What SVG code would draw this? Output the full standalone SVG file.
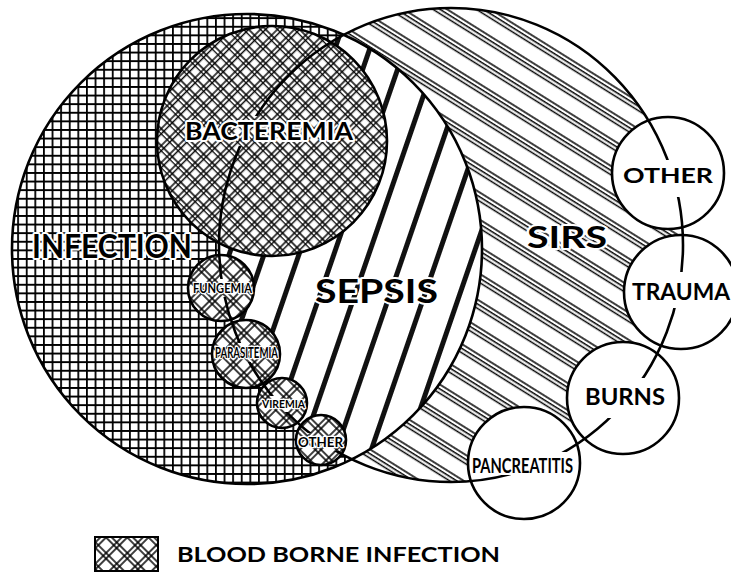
<svg xmlns="http://www.w3.org/2000/svg" width="731" height="572" viewBox="0 0 731 572">
<style>
.o{fill:none;stroke:#000;stroke-width:2.6}
.w{fill:#fff}
.t{font-family:Lato,"Open Sans","Liberation Sans",sans-serif;font-weight:bold;fill:#000;stroke:#fff;stroke-width:4;stroke-linejoin:round;paint-order:stroke}
.s{stroke-width:2.6}
</style>
<defs>
<pattern id="grid" patternUnits="userSpaceOnUse" width="8.6" height="8.6">
<path d="M0 0.9H8.6M0.9 0V8.6" stroke="#000" stroke-width="1.8"/>
</pattern>
<pattern id="stripes" patternUnits="userSpaceOnUse" width="33" height="40" patternTransform="rotate(19)">
<rect x="0" y="0" width="5" height="40" fill="#111"/>
</pattern>
<pattern id="sirsPat" patternUnits="userSpaceOnUse" width="40" height="23" patternTransform="rotate(32)">
<path d="M0 1H40M0 4.8H40M0 8.6H40" stroke="#000" stroke-width="1.5"/>
</pattern>
<pattern id="bact" patternUnits="userSpaceOnUse" width="12" height="12" patternTransform="rotate(45)">
<path d="M0 1H12M0 4.6H12M1 0V12M4.6 0V12" stroke="#000" stroke-width="1.45"/>
</pattern>
<pattern id="blood" patternUnits="userSpaceOnUse" width="15" height="15" patternTransform="rotate(45)">
<path d="M0 1H15M0 5H15M1 0V15M5 0V15" stroke="#000" stroke-width="1.5"/>
</pattern>
<clipPath id="sirsClip"><ellipse cx="451" cy="245" rx="232" ry="237"/></clipPath>
<mask id="lineMask" maskUnits="userSpaceOnUse" x="0" y="0" width="731" height="572">
<rect width="731" height="572" fill="#fff"/>
<rect x="183" y="116" width="174" height="30" fill="#000"/>
<rect x="190" y="279" width="65" height="18" fill="#000"/>
<rect x="212" y="343" width="70" height="19" fill="#000"/>
<rect x="259" y="396" width="49" height="16" fill="#000"/>
<rect x="295" y="433" width="51" height="18" fill="#000"/>
<rect x="618" y="160" width="100" height="37" fill="#000"/>
<rect x="628" y="272" width="104" height="36" fill="#000"/>
<rect x="580" y="378" width="90" height="40" fill="#000"/>
<rect x="500" y="452" width="80" height="23" fill="#000"/>
</mask>
</defs>
<rect width="731" height="572" fill="#fff"/>

<g id="sirs">
<ellipse cx="451" cy="245" rx="232" ry="237" class="w"/>
<ellipse cx="451" cy="245" rx="232" ry="237" fill="url(#sirsPat)"/>
</g>
<g id="infection">
<circle cx="247" cy="249" r="235" class="w"/>
<circle cx="247" cy="249" r="235" fill="url(#grid)"/>
</g>
<g id="sepsis" clip-path="url(#sirsClip)">
<circle cx="247" cy="249" r="235" class="w"/>
<circle cx="247" cy="249" r="235" fill="url(#stripes)"/>
</g>
<g id="bacteremia">
<circle cx="272" cy="141" r="115" class="w"/>
<circle cx="272" cy="141" r="115" fill="url(#bact)"/>
</g>
<g id="fungemia">
<circle cx="221" cy="288" r="33" class="w"/>
<circle cx="221" cy="288" r="33" fill="url(#blood)"/>
</g>
<g id="parasitemia">
<circle cx="246" cy="354" r="34" class="w"/>
<circle cx="246" cy="354" r="34" fill="url(#blood)"/>
</g>
<g id="viremia">
<circle cx="282" cy="403" r="25" class="w"/>
<circle cx="282" cy="403" r="25" fill="url(#blood)"/>
</g>
<g id="other-blood">
<circle cx="321" cy="440" r="25" class="w"/>
<circle cx="321" cy="440" r="25" fill="url(#blood)"/>
</g>
<g id="right-fills">
<circle cx="668" cy="173" r="56" class="w"/>
<circle cx="681" cy="292" r="57" class="w"/>
<circle cx="623" cy="398" r="56" class="w"/>
<circle cx="524" cy="463" r="56" class="w"/>
</g>

<g id="outlines">
<circle cx="247" cy="249" r="235" class="o"/>
<ellipse cx="451" cy="245" rx="232" ry="237" class="o" mask="url(#lineMask)"/>
<circle cx="272" cy="141" r="115" class="o"/>
<circle cx="221" cy="288" r="33" class="o"/>
<circle cx="246" cy="354" r="34" class="o"/>
<circle cx="282" cy="403" r="25" class="o"/>
<circle cx="321" cy="440" r="25" class="o"/>
</g>
<g id="other">
<circle cx="668" cy="173" r="56" class="o"/>
<text class="t" x="623" y="183" font-size="21" textLength="90" lengthAdjust="spacingAndGlyphs">OTHER</text>
</g>
<g id="trauma">
<circle cx="681" cy="292" r="57" class="o"/>
<text class="t" x="632" y="300" font-size="23" textLength="98" lengthAdjust="spacingAndGlyphs">TRAUMA</text>
</g>
<g id="burns">
<circle cx="623" cy="398" r="56" class="o"/>
<text class="t" x="585" y="405" font-size="23" textLength="80" lengthAdjust="spacingAndGlyphs">BURNS</text>
</g>
<g id="pancreatitis">
<circle cx="524" cy="463" r="56" class="o"/>
<text class="t" x="472" y="473" font-size="21" textLength="101" lengthAdjust="spacingAndGlyphs">PANCREATITIS</text>
</g>

<g id="labels">
<text class="t" x="185" y="140" font-size="25" textLength="168" lengthAdjust="spacingAndGlyphs">BACTEREMIA</text>
<text class="t" x="32" y="258" font-size="33" textLength="160" lengthAdjust="spacingAndGlyphs">INFECTION</text>
<text class="t" x="315" y="303" font-size="32" textLength="123" lengthAdjust="spacingAndGlyphs">SEPSIS</text>
<text class="t" x="527" y="248" font-size="30" textLength="80" lengthAdjust="spacingAndGlyphs">SIRS</text>
<text class="t s" x="193" y="293" font-size="14" textLength="59" lengthAdjust="spacingAndGlyphs">FUNGEMIA</text>
<text class="t s" x="215" y="358" font-size="15" textLength="63" lengthAdjust="spacingAndGlyphs">PARASITEMIA</text>
<text class="t s" x="262" y="408" font-size="11" textLength="43" lengthAdjust="spacingAndGlyphs">VIREMIA</text>
<text class="t s" x="298" y="447" font-size="13" textLength="45" lengthAdjust="spacingAndGlyphs">OTHER</text>
</g>

<g id="legend">
<rect x="95" y="537" width="63" height="34" class="w"/>
<rect x="95" y="537" width="63" height="34" fill="url(#blood)"/>
<rect x="95" y="537" width="63" height="34" fill="none" stroke="#000" stroke-width="2"/>
<text class="t" x="177" y="562" font-size="21" textLength="323" lengthAdjust="spacingAndGlyphs">BLOOD BORNE INFECTION</text>
</g>
</svg>
